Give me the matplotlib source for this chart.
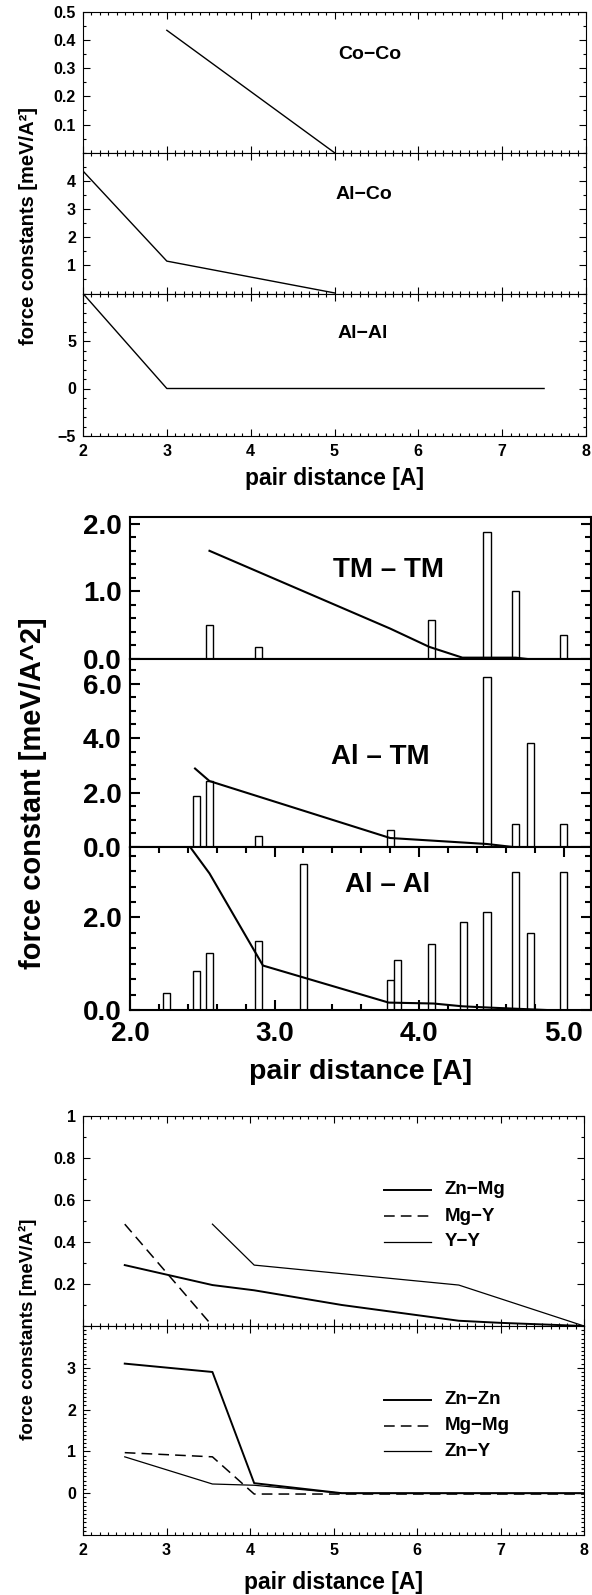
import matplotlib
matplotlib.use('Agg')
import matplotlib.pyplot as plt
from matplotlib.ticker import MultipleLocator, FixedLocator, FuncFormatter, NullLocator

plt.rcParams['font.family'] = ['Liberation Sans', 'DejaVu Sans']
plt.rcParams['font.weight'] = 'bold'
plt.rcParams['axes.unicode_minus'] = True

# ---------------- data: group 1 (Al-Co) ----------------
coco_x = [3.0, 5.0]
coco_y = [0.435, 0.0]
alco_x = [2.0, 3.0, 5.0]
alco_y = [4.35, 1.15, 0.02]
alal1_x = [2.0, 3.0, 7.5]
alal1_y = [10.0, 0.0, 0.0]

# ---------------- data: group 2 (bars + lines) ----------------
bar_pos = [2.25, 2.46, 2.55, 2.89, 3.2, 3.8, 3.85, 4.085, 4.31, 4.47, 4.67, 4.77, 5.0]
tmtm_bar = [0, 0, 0.50, 0.18, 0, 0, 0, 0.58, 0, 1.88, 1.01, 0, 0.36]
altm_bar = [0, 1.88, 2.43, 0.39, 0, 0.61, 0, 0, 0, 6.24, 0.83, 3.80, 0.83]
alal_bar = [0.37, 0.84, 1.24, 1.49, 3.16, 0.65, 1.09, 1.42, 1.89, 2.11, 2.97, 1.67, 2.97]
tmtm_lx = [2.55, 3.8, 4.07, 4.3, 4.67, 4.75]
tmtm_ly = [1.60, 0.45, 0.18, 0.02, 0.02, 0.0]
altm_lx = [2.45, 2.55, 3.8, 4.47, 4.65]
altm_ly = [2.88, 2.42, 0.33, 0.11, 0.0]
alal_lx = [2.35, 2.55, 2.92, 3.79, 4.1, 4.3, 4.5, 4.88]
alal_ly = [3.80, 2.95, 0.96, 0.16, 0.14, 0.08, 0.05, 0.0]

# ---------------- data: group 3 (Zn-Mg-Y) ----------------
znmg_x = [2.5, 3.55, 4.05, 5.1, 6.5, 7.0, 8.0]
znmg_y = [0.29, 0.195, 0.17, 0.10, 0.025, 0.015, 0.0]
mgy_x = [2.5, 3.55]
mgy_y = [0.485, 0.0]
yy_x = [3.55, 4.05, 6.5, 8.0]
yy_y = [0.485, 0.29, 0.195, 0.0]
znzn_x = [2.5, 3.55, 4.05, 5.1, 8.0]
znzn_y = [3.1, 2.9, 0.24, 0.0, 0.0]
mgmg_x = [2.5, 3.55, 4.05, 8.0]
mgmg_y = [0.97, 0.87, -0.02, -0.02]
zny_x = [2.5, 3.55, 4.05, 5.1, 8.0]
zny_y = [0.87, 0.22, 0.19, 0.0, 0.0]

W, H = 592, 1595
fig = plt.figure(figsize=(W / 100, H / 100), dpi=100)


def add_ax(x0, x1, y0, y1):
    return fig.add_axes([x0 / W, 1 - y1 / H, (x1 - x0) / W, (y1 - y0) / H])


def style(ax, lw=0.8, fs=11.5, maj=5, mnr=2.5, pad=5):
    for s in ax.spines.values():
        s.set_linewidth(lw)
    ax.tick_params(which='both', direction='in', top=True, right=True,
                   labelsize=fs, width=lw, pad=pad)
    ax.tick_params(which='major', length=maj)
    ax.tick_params(which='minor', length=mnr)


def fmt_g(v, p):
    s = ('%.1f' % v)
    if s.endswith('.0'):
        s = s[:-2]
    return s.replace('-', '\u2212')


# ================= group 1 =================
g1x0, g1x1 = 83, 586
a1 = add_ax(g1x0, g1x1, 12, 152.7)
a2 = add_ax(g1x0, g1x1, 152.7, 293.5)
a3 = add_ax(g1x0, g1x1, 293.5, 436)
for ax in (a1, a2, a3):
    style(ax)
    ax.set_xlim(2, 8)
    ax.xaxis.set_major_locator(MultipleLocator(1))
    ax.xaxis.set_minor_locator(MultipleLocator(0.1))
for ax in (a1, a2):
    ax.tick_params(labelbottom=False)
a3.tick_params(axis='x', pad=6)

a1.plot(coco_x, coco_y, color='black', lw=1.0)
a1.set_ylim(0, 0.5)
a1.yaxis.set_major_locator(FixedLocator([0.1, 0.2, 0.3, 0.4, 0.5]))
a1.yaxis.set_minor_locator(MultipleLocator(0.05))
a1.yaxis.set_major_formatter(FuncFormatter(fmt_g))
a1.text(5.42, 0.35, 'Co\u2212Co', ha='center', va='center', fontsize=14, fontweight='bold')

a2.plot(alco_x, alco_y, color='black', lw=1.0)
a2.set_ylim(0, 5)
a2.yaxis.set_major_locator(FixedLocator([1, 2, 3, 4]))
a2.yaxis.set_minor_locator(MultipleLocator(0.5))
a2.yaxis.set_major_formatter(FuncFormatter(fmt_g))
a2.text(5.35, 3.52, 'Al\u2212Co', ha='center', va='center', fontsize=14, fontweight='bold')

a3.plot(alal1_x, alal1_y, color='black', lw=1.0)
a3.set_ylim(-5, 10)
a3.yaxis.set_major_locator(FixedLocator([-5, 0, 5]))
a3.yaxis.set_minor_locator(MultipleLocator(1))
a3.yaxis.set_major_formatter(FuncFormatter(fmt_g))
a3.text(5.34, 5.78, 'Al\u2212Al', ha='center', va='center', fontsize=14, fontweight='bold')

fig.text(28.5 / W, 1 - 226 / H, 'force constants [meV/A\u00b2]', rotation=90,
         ha='center', va='center', fontsize=14.5, fontweight='bold')
fig.text((g1x0 + g1x1) / 2 / W, 1 - 479 / H, 'pair distance [A]',
         ha='center', va='center', fontsize=16.5, fontweight='bold')

# ================= group 2 =================
g2x0, g2x1 = 130, 591
b1 = add_ax(g2x0, g2x1, 517, 659)
b2 = add_ax(g2x0, g2x1, 659, 847)
b3 = add_ax(g2x0, g2x1, 847, 1010)
for ax in (b1, b2, b3):
    style(ax, lw=1.5, fs=20, maj=7, mnr=4, pad=6)
    ax.set_xlim(2.0, 5.19)
    ax.yaxis.set_major_formatter(FuncFormatter(lambda v, p: '%.1f' % v))
for ax in (b1, b2):
    ax.xaxis.set_major_locator(NullLocator())
    ax.xaxis.set_minor_locator(NullLocator())
b3.xaxis.set_major_locator(MultipleLocator(1.0))
b3.xaxis.set_minor_locator(MultipleLocator(0.2))
b3.xaxis.set_major_formatter(FuncFormatter(lambda v, p: '%.1f' % v))
b3.tick_params(axis='x', pad=8)

for ax, hts, lx, ly in ((b1, tmtm_bar, tmtm_lx, tmtm_ly),
                        (b2, altm_bar, altm_lx, altm_ly),
                        (b3, alal_bar, alal_lx, alal_ly)):
    ax.bar(bar_pos, hts, width=0.05, facecolor='white', edgecolor='black',
           linewidth=1.0, zorder=2)
    ax.plot(lx, ly, color='black', lw=1.5, zorder=3)

b1.set_ylim(0, 2.1)
b1.yaxis.set_major_locator(MultipleLocator(1.0))
b1.yaxis.set_minor_locator(MultipleLocator(0.2))
b1.text(3.79, 1.31, 'TM \u2013 TM', ha='center', va='center', fontsize=20, fontweight='bold')

b2.set_ylim(0, 6.9)
b2.yaxis.set_major_locator(MultipleLocator(2.0))
b2.yaxis.set_minor_locator(MultipleLocator(0.5))
b2.text(3.73, 3.32, 'Al \u2013 TM', ha='center', va='center', fontsize=20, fontweight='bold')

b3.set_ylim(0, 3.52)
b3.yaxis.set_major_locator(MultipleLocator(2.0))
b3.yaxis.set_minor_locator(MultipleLocator(1 / 3))
b3.text(3.78, 2.7, 'Al \u2013 Al', ha='center', va='center', fontsize=20, fontweight='bold')

fig.text(33 / W, 1 - 793 / H, 'force constant [meV/A^2]', rotation=90,
         ha='center', va='center', fontsize=21, fontweight='bold')
fig.text((g2x0 + g2x1) / 2 / W, 1 - 1072 / H, 'pair distance [A]',
         ha='center', va='center', fontsize=20.5, fontweight='bold')

# ================= group 3 =================
g3x0, g3x1 = 83, 584
c1 = add_ax(g3x0, g3x1, 1116, 1326)
c2 = add_ax(g3x0, g3x1, 1326, 1535)
for ax in (c1, c2):
    style(ax)
    ax.set_xlim(2, 8)
    ax.xaxis.set_major_locator(MultipleLocator(1))
    ax.xaxis.set_minor_locator(MultipleLocator(0.1))
    ax.yaxis.set_major_formatter(FuncFormatter(fmt_g))
c1.tick_params(labelbottom=False)
c2.tick_params(axis='x', pad=6)

c1.set_ylim(0, 1)
c1.yaxis.set_major_locator(FixedLocator([0.2, 0.4, 0.6, 0.8, 1.0]))
c1.yaxis.set_minor_locator(MultipleLocator(0.1))
c2.set_ylim(-1, 4)
c2.yaxis.set_major_locator(FixedLocator([0, 1, 2, 3]))
c2.yaxis.set_minor_locator(MultipleLocator(0.1))

solid_thick = dict(color='black', lw=1.4)
dashed = dict(color='black', lw=1.1, dashes=(7, 4))
solid_thin = dict(color='black', lw=0.9)

series_top = [('Zn\u2212Mg', znmg_x, znmg_y, solid_thick),
              ('Mg\u2212Y', mgy_x, mgy_y, dashed),
              ('Y\u2212Y', yy_x, yy_y, solid_thin)]
series_bot = [('Zn\u2212Zn', znzn_x, znzn_y, solid_thick),
              ('Mg\u2212Mg', mgmg_x, mgmg_y, dashed),
              ('Zn\u2212Y', zny_x, zny_y, solid_thin)]

for ax, series, ys in ((c1, series_top, [0.648, 0.522, 0.40]),
                       (c2, series_bot, [0.646, 0.523, 0.40])):
    for (name, x, y, st), yl in zip(series, ys):
        ax.plot(x, y, **st)
        ax.plot([0.60, 0.695], [yl, yl], transform=ax.transAxes, **st)
        ax.text(0.722, yl, name, transform=ax.transAxes, ha='left', va='center',
                fontsize=13.5, fontweight='bold')

fig.text(27.5 / W, 1 - 1329 / H, 'force constants [meV/A\u00b2]', rotation=90,
         ha='center', va='center', fontsize=13.5, fontweight='bold')
fig.text((g3x0 + g3x1) / 2 / W, 1 - 1583 / H, 'pair distance [A]',
         ha='center', va='center', fontsize=16.5, fontweight='bold')

fig.savefig('out.png', dpi=100)
